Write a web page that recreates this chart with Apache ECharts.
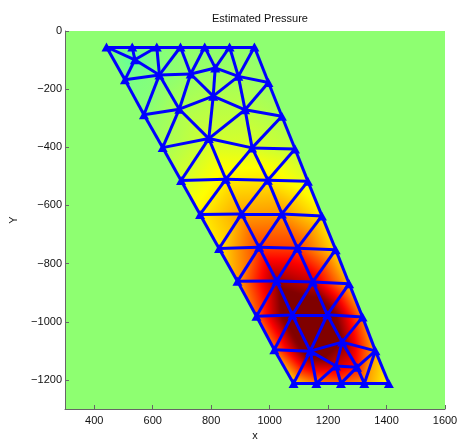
<!DOCTYPE html>
<html>
<head>
<meta charset="utf-8">
<script src="https://cdn.jsdelivr.net/npm/echarts@6/dist/echarts.min.js"></script>
<style>
  html, body { margin: 0; padding: 0; background: #fff; }
  #chart { width: 458px; height: 441px; }
</style>
</head>
<body>
<div id="chart"></div>
<script>
// mesh nodes (data coords)
const nodeX = [442, 530, 614, 695, 778, 863, 948,
    539, 505, 623, 730, 814, 893, 996,
    570, 691, 807, 916, 1042,
    634, 792, 940, 1087,
    697, 850, 994, 1131,
    762, 904, 1042, 1179,
    827, 964, 1095, 1226,
    890, 1024, 1148, 1272,
    955, 1078, 1197, 1318,
    1016, 1139, 1248, 1362,
    1227, 1299,
    1082, 1160, 1244, 1324, 1408];
const nodeY = [-55, -55, -55, -55, -55, -55, -55,
    -99, -168, -151, -148, -127, -156, -177,
    -288, -269, -224, -271, -293,
    -401, -370, -402, -406,
    -514, -510, -513, -517,
    -631, -629, -629, -636,
    -748, -744, -747, -752,
    -861, -860, -863, -869,
    -981, -977, -976, -984,
    -1096, -1101, -1070, -1100,
    -1152, -1156,
    -1212, -1212, -1212, -1212, -1212];
// estimated pressure at each node
const pressure = [-0.03, -0.03, -0.02, 0.0, 0.0, 0.0, 0.0,
    -0.09, -0.04, -0.02, 0.02, 0.02, 0.04, 0.02,
    -0.01, 0.06, 0.07, 0.09, 0.06,
    0.05, 0.13, 0.15, 0.1,
    0.14, 0.26, 0.28, 0.17,
    0.26, 0.42, 0.44, 0.27,
    0.28, 0.62, 0.62, 0.3,
    0.42, 0.95, 0.85, 0.38,
    0.55, 1.2, 1.15, 0.5,
    0.52, 1.15, 1.0, 0.4,
    0.85, 0.7,
    0.3, 0.5, 0.55, 0.45, 0.22];
// triangles (node indices)
const tris = [
    [0, 1, 7], [1, 2, 7], [0, 7, 8], [7, 8, 9], [7, 2, 9], [2, 3, 9], [3, 9, 10], [3, 4, 10],
    [4, 10, 11], [4, 5, 11], [5, 11, 12], [5, 6, 12], [6, 12, 13],
    [8, 9, 14], [9, 14, 15], [9, 10, 15], [10, 15, 16], [10, 11, 16], [11, 12, 16],
    [12, 16, 17], [12, 13, 17], [13, 17, 18],
    [14, 15, 19], [15, 19, 20], [15, 16, 20], [16, 17, 20], [17, 20, 21], [17, 18, 21], [18, 21, 22],
    [19, 20, 23], [20, 23, 24], [20, 21, 24], [21, 24, 25], [21, 22, 25], [22, 25, 26],
    [23, 24, 27], [24, 27, 28], [24, 25, 28], [25, 28, 29], [25, 26, 29], [26, 29, 30],
    [27, 28, 31], [28, 31, 32], [28, 29, 32], [29, 32, 33], [29, 30, 33], [30, 33, 34],
    [31, 32, 35], [32, 35, 36], [32, 33, 36], [33, 36, 37], [33, 34, 37], [34, 37, 38],
    [35, 36, 39], [36, 39, 40], [36, 37, 40], [37, 40, 41], [37, 38, 41], [38, 41, 42],
    [39, 40, 43], [40, 43, 44], [40, 41, 44], [41, 44, 45], [41, 42, 45], [42, 45, 46],
    [43, 44, 49], [44, 49, 50], [44, 50, 47], [44, 47, 45], [45, 47, 48], [45, 48, 46],
    [47, 50, 51], [47, 48, 51], [48, 51, 52], [48, 52, 46], [46, 52, 53]
];
const xTicks = [400, 600, 800, 1000, 1200, 1400, 1600];
const yTicks = [-1200, -1000, -800, -600, -400, -200, 0];

const cMin = -1.06, cMax = 1.0;

function jet(v) {
    const u = Math.max(0, Math.min(1, (v - cMin) / (cMax - cMin)));
    const c = t => Math.round(255 * Math.max(0, Math.min(1, t)));
    return 'rgb(' + c(1.5 - Math.abs(4 * u - 3)) + ',' + c(1.5 - Math.abs(4 * u - 2)) + ',' + c(1.5 - Math.abs(4 * u - 1)) + ')';
}

// fill each triangle with a linear gradient along the value gradient
function triFill(pts, vals) {
    const [x1, y1] = pts[0], [x2, y2] = pts[1], [x3, y3] = pts[2];
    const [p1, p2, p3] = vals;
    const det = (x2 - x1) * (y3 - y1) - (x3 - x1) * (y2 - y1);
    const a = ((p2 - p1) * (y3 - y1) - (p3 - p1) * (y2 - y1)) / det;
    const b = ((x2 - x1) * (p3 - p1) - (x3 - x1) * (p2 - p1)) / det;
    const g2 = a * a + b * b;
    const pmin = Math.min(p1, p2, p3), pmax = Math.max(p1, p2, p3);
    if (g2 < 1e-12 || pmax - pmin < 1e-6) return jet(p1);
    const k = vals.indexOf(pmin);
    const sx = pts[k][0], sy = pts[k][1];
    const d = (pmax - pmin) / g2;
    const stops = [];
    const n = 12;
    for (let i = 0; i <= n; i++) {
        stops.push({ offset: i / n, color: jet(pmin + (pmax - pmin) * i / n) });
    }
    return new echarts.graphic.LinearGradient(sx, sy, sx + a * d, sy + b * d, stops, true);
}

const triData = tris.map((t, i) => [
    (nodeX[t[0]] + nodeX[t[1]] + nodeX[t[2]]) / 3,
    (nodeY[t[0]] + nodeY[t[1]] + nodeY[t[2]]) / 3,
    i
]);

const edgeSet = {};
const edges = [];
tris.forEach(t => {
    for (let i = 0; i < 3; i++) {
        const a = Math.min(t[i], t[(i + 1) % 3]), b = Math.max(t[i], t[(i + 1) % 3]);
        const key = a + '-' + b;
        if (!edgeSet[key]) {
            edgeSet[key] = true;
            edges.push({ coords: [[nodeX[a], nodeY[a]], [nodeX[b], nodeY[b]]] });
        }
    }
});

const fmt = v => (v < 0 ? '\u2212' + Math.abs(v) : String(v));

let myChart = echarts.init(document.getElementById('chart'));
let option = {
    animation: false,
    backgroundColor: '#fff',
    title: {
        text: 'Estimated Pressure',
        left: 255,
        top: 8,
        textAlign: 'center',
        textStyle: { fontSize: 11, fontWeight: 'normal', color: '#111', fontFamily: 'Liberation Sans' }
    },
    grid: {
        left: 65, right: 13, top: 31, bottom: 32,
        outerBoundsMode: 'none',
        containLabel: false,
        show: true, backgroundColor: jet(0), borderWidth: 0
    },
    xAxis: {
        type: 'value', min: 300, max: 1600,
        minInterval: 200, maxInterval: 200,
        name: 'x', nameLocation: 'middle', nameGap: 20,
        nameTextStyle: { fontSize: 11, color: '#111', fontFamily: 'Liberation Sans' },
        axisLine: { show: true, onZero: false, lineStyle: { color: '#666', width: 1 } },
        axisTick: { show: true, inside: true, length: 4, lineStyle: { color: '#666' } },
        axisLabel: {
            fontSize: 11, color: '#111', fontFamily: 'Liberation Sans', margin: 6,
            showMinLabel: false,
            formatter: v => (xTicks.indexOf(v) >= 0 ? fmt(v) : '')
        },
        splitLine: { show: false }
    },
    yAxis: {
        type: 'value', min: -1300, max: 0,
        minInterval: 200, maxInterval: 200,
        name: 'Y', nameLocation: 'middle', nameGap: 46, nameRotate: 90,
        nameTextStyle: { fontSize: 11, color: '#111', fontFamily: 'Liberation Sans' },
        axisLine: { show: true, onZero: false, lineStyle: { color: '#666', width: 1 } },
        axisTick: { show: true, inside: true, length: 4, lineStyle: { color: '#666' } },
        axisLabel: {
            fontSize: 11, color: '#111', fontFamily: 'Liberation Sans', margin: 3,
            showMinLabel: false,
            formatter: v => (yTicks.indexOf(v) >= 0 ? fmt(v) : '')
        },
        splitLine: { show: false }
    },
    series: [
        {
            type: 'custom',
            coordinateSystem: 'cartesian2d',
            data: triData,
            encode: { x: 0, y: 1 },
            clip: true,
            z: 1,
            renderItem: function (params, api) {
                const t = tris[api.value(2)];
                const pts = t.map(n => api.coord([nodeX[n], nodeY[n]]));
                const vals = t.map(n => pressure[n]);
                return {
                    type: 'polygon',
                    shape: { points: pts },
                    style: { fill: triFill(pts, vals), stroke: null }
                };
            }
        },
        {
            type: 'lines',
            coordinateSystem: 'cartesian2d',
            data: edges,
            z: 2,
            lineStyle: { color: '#0000ff', width: 3, opacity: 1 }
        },
        {
            type: 'scatter',
            data: nodeX.map((x, i) => [x, nodeY[i]]),
            symbol: 'triangle',
            symbolSize: [10, 9],
            z: 3,
            itemStyle: { color: '#0000ff', opacity: 1 }
        }
    ]
};
option && myChart.setOption(option);
</script>
</body>
</html>
